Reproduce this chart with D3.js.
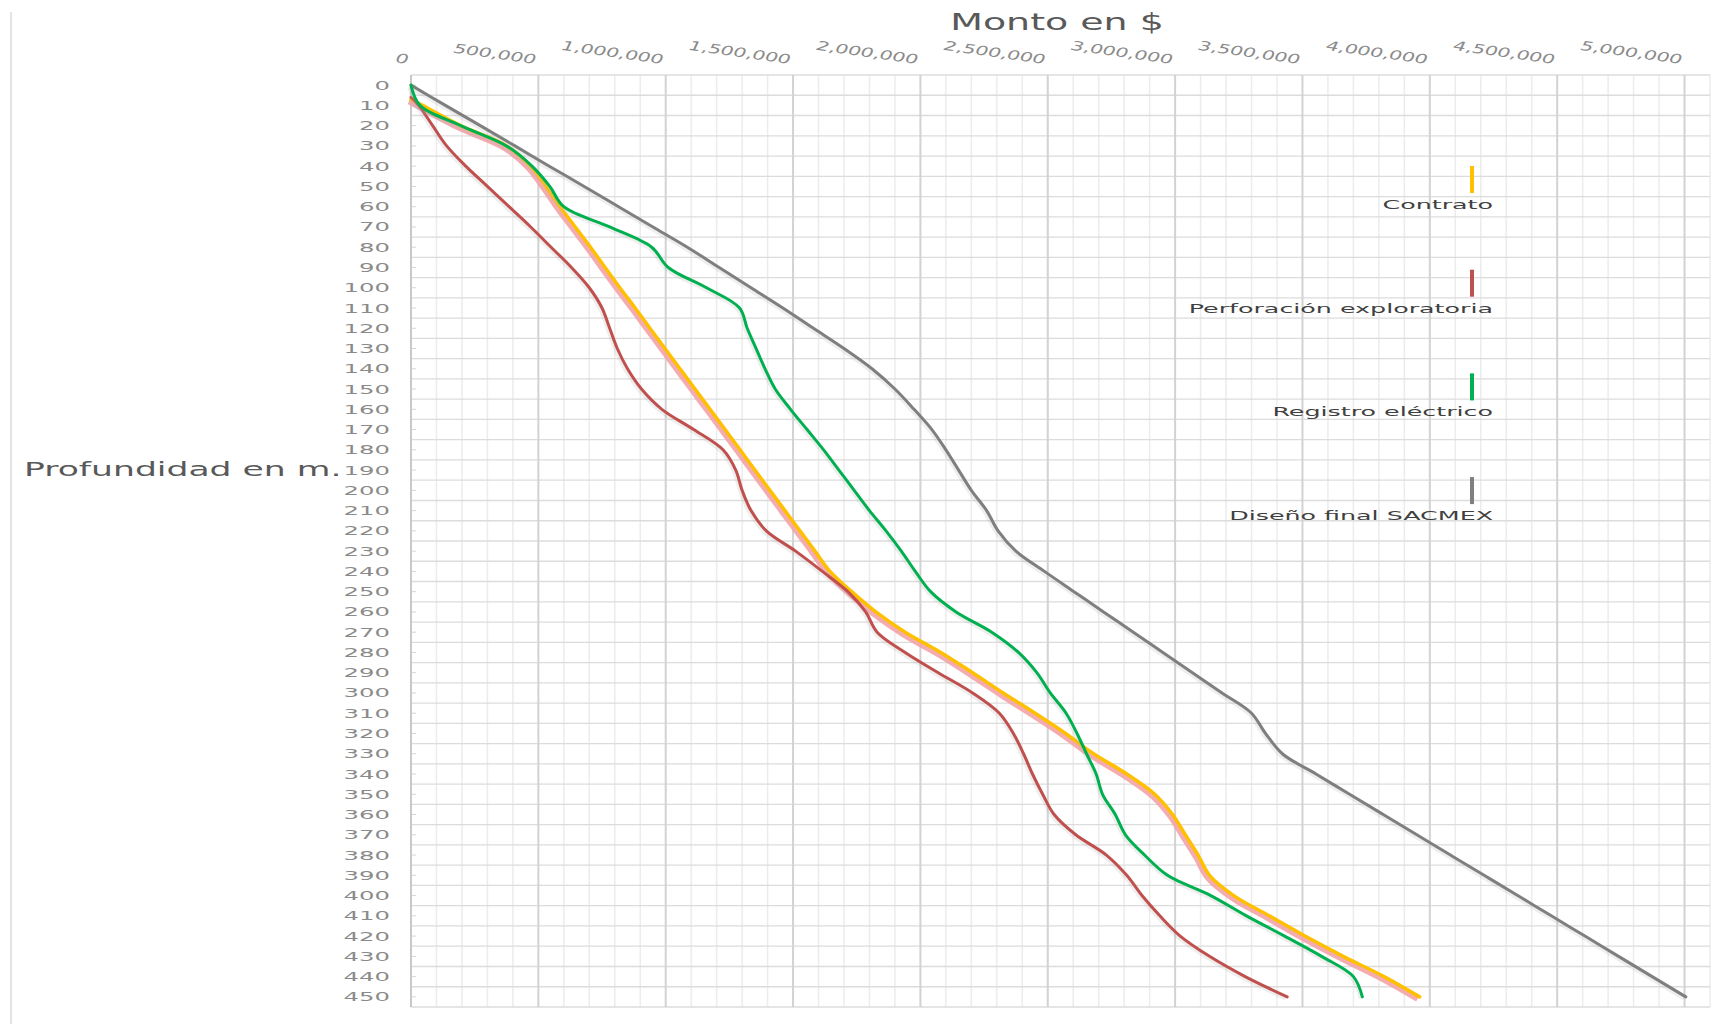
<!DOCTYPE html>
<html>
<head>
<meta charset="utf-8">
<script src="https://cdn.jsdelivr.net/npm/d3@7"></script>
<style>
  body { margin: 0; background: #fff; }
  svg { display: block; font-family: "DejaVu Sans", sans-serif; }
</style>
</head>
<body>
<div id="chart"></div>
<script>
// depth categories (m) = row labels
var depths = [0, 10, 20, 30, 40, 50, 60, 70, 80, 90, 100, 110, 120, 130, 140, 150, 160, 170, 180, 190,
  200, 210, 220, 230, 240, 250, 260, 270, 280, 290, 300, 310, 320, 330, 340, 350, 360, 370, 380, 390,
  400, 410, 420, 430, 440, 450];

// amount ticks on top ($)
var montoTicks = [0, 500000, 1000000, 1500000, 2000000, 2500000, 3000000, 3500000, 4000000, 4500000, 5000000];

// series names (legend order)
var seriesNames = ["Contrato", "Perforación exploratoria", "Registro eléctrico", "Diseño final SACMEX"];

// first depth each series is drawn from (some start a bit below 0)
var startDepth = [7, 6, 0, 0];

// cumulative amount ($) per depth
var contrato = [0, 45000, 195000, 375000, 470000, 530000, 585000, 645000, 705000, 762000,
  820000, 880000, 938000, 997000, 1056000, 1115000, 1174000, 1233000, 1292000, 1350000,
  1409000, 1468000, 1527000, 1586000, 1645000, 1730000, 1825000, 1940000, 2080000, 2205000,
  2325000, 2450000, 2570000, 2680000, 2810000, 2920000, 2990000, 3040000, 3090000, 3135000,
  3230000, 3370000, 3510000, 3660000, 3820000, 3960000];

var perforacion = [0, 30000, 85000, 140000, 215000, 300000, 385000, 470000, 550000, 630000,
  700000, 750000, 780000, 810000, 850000, 905000, 985000, 1110000, 1225000, 1275000,
  1300000, 1335000, 1395000, 1510000, 1615000, 1715000, 1785000, 1830000, 1940000, 2070000,
  2205000, 2310000, 2365000, 2405000, 2440000, 2480000, 2525000, 2610000, 2730000, 2810000,
  2870000, 2940000, 3020000, 3135000, 3275000, 3440000];

var registro = [0, 35000, 195000, 375000, 475000, 545000, 600000, 780000, 945000, 1010000,
  1160000, 1290000, 1320000, 1355000, 1390000, 1430000, 1490000, 1555000, 1620000, 1680000,
  1740000, 1800000, 1865000, 1925000, 1980000, 2040000, 2140000, 2280000, 2385000, 2457000,
  2510000, 2572000, 2615000, 2652000, 2690000, 2715000, 2765000, 2805000, 2880000, 2970000,
  3140000, 3280000, 3430000, 3575000, 3700000, 3735000];

var disenoFinal = [0, 135000, 272000, 408000, 543000, 680000, 815000, 950000, 1085000, 1210000,
  1335000, 1460000, 1580000, 1700000, 1810000, 1900000, 1975000, 2045000, 2100000, 2150000,
  2200000, 2260000, 2305000, 2375000, 2487000, 2603000, 2719000, 2836000, 2952000, 3068000,
  3184000, 3300000, 3355000, 3421000, 3553000, 3685000, 3817000, 3949000, 4081000, 4213000,
  4345000, 4477000, 4609000, 4741000, 4873000, 5005000];

var seriesValues = [contrato, perforacion, registro, disenoFinal];
var seriesColors = ["#FFC000", "#C0504D", "#00B050", "#7F7F7F"];

var W = 1712, H = 1024;
var plot = {left: 411, top: 75, right: 1710, bottom: 1007};

var svg = d3.select("#chart").append("svg")
    .attr("width", W)
    .attr("height", H);

// x: amount, y: depth (rows centred in 10 m bands)
var x = d3.scaleLinear().domain([0, 5100000]).range([plot.left, plot.right]);
var y = d3.scaleLinear().domain([-5, 455]).range([plot.top, plot.bottom]);

// stretched text helper (the original picture is widened horizontally)
function stext(g, px, py, str, size, sx, anchor, rot, color) {
  return g.append("text")
    .attr("transform", "translate(" + px + "," + py + ")" + (rot ? " rotate(" + rot + ")" : "") + " scale(" + sx + ",1)")
    .attr("text-anchor", anchor)
    .style("font-size", size + "px")
    .attr("fill", color)
    .text(str);
}

// faint outer frame line on the left
svg.append("line")
  .attr("x1", 11).attr("x2", 11).attr("y1", 12).attr("y2", H)
  .attr("stroke", "#e4e4e4").attr("stroke-width", 2);

// grid
var grid = svg.append("g");
var minor = d3.range(0, 5100001, 100000);
grid.selectAll(".vminor").data(minor.filter(function(d) { return d % 500000 != 0; }))
  .enter().append("line")
    .attr("x1", function(d) { return x(d); }).attr("x2", function(d) { return x(d); })
    .attr("y1", plot.top).attr("y2", plot.bottom)
    .attr("stroke", "#ececec").attr("stroke-width", 1.5);

grid.selectAll(".hline").data(d3.range(-5, 456, 10))
  .enter().append("line")
    .attr("x1", plot.left).attr("x2", plot.right)
    .attr("y1", function(d) { return y(d); }).attr("y2", function(d) { return y(d); })
    .attr("stroke", "#dcdcdc").attr("stroke-width", 1.3);

grid.selectAll(".vmajor").data(montoTicks.slice(1))
  .enter().append("line")
    .attr("x1", function(d) { return x(d); }).attr("x2", function(d) { return x(d); })
    .attr("y1", plot.top).attr("y2", plot.bottom)
    .attr("stroke", "#d2d2d2").attr("stroke-width", 2);

// left axis line + small ticks
grid.append("line")
  .attr("x1", plot.left).attr("x2", plot.left).attr("y1", plot.top).attr("y2", plot.bottom)
  .attr("stroke", "#c8c8c8").attr("stroke-width", 2);
grid.selectAll(".tk").data(depths)
  .enter().append("line")
    .attr("x1", plot.left).attr("x2", plot.left + 5)
    .attr("y1", function(d) { return y(d); }).attr("y2", function(d) { return y(d); })
    .attr("stroke", "#d4d4d4").attr("stroke-width", 1);

// axis labels
var labels = svg.append("g");
depths.forEach(function(d) {
  stext(labels, 390, y(d) + 4.5, d, 12.5, 1.95, "end", 0, "#8a8a8a");
});
var fmt = d3.format(",");
montoTicks.forEach(function(v) {
  stext(labels, x(v) - 3, 64, fmt(v), 13, 1.55, "end", 8, "#8a8a8a").style("font-style", "italic");
});

stext(labels, 1057, 30, "Monto en $", 23, 1.65, "middle", 0, "#595959");
stext(labels, 24, 476, "Profundidad en m.", 20, 1.73, "start", 0, "#595959");

// lines
var lines = svg.append("g");
function pts(i) {
  return depths.map(function(d, k) {
    return [k == 0 ? startDepth[i] : d, seriesValues[i][k]];
  });
}
var line = d3.line()
  .x(function(p) { return x(p[1]); })
  .y(function(p) { return y(p[0]); })
  .curve(d3.curveCatmullRom.alpha(0.5));

var drawOrder = [3, 0, 1, 2];
drawOrder.forEach(function(i) {
  // soft shadow (pink glow under Contrato)
  lines.append("path")
    .attr("d", line(pts(i)))
    .attr("transform", "translate(-2,2)")
    .attr("fill", "none")
    .attr("stroke", i == 0 ? "#F4A3A8" : "#b0b0b0")
    .attr("stroke-opacity", i == 0 ? 0.9 : 0.22)
    .attr("stroke-width", i == 0 ? 6 : 3);
  lines.append("path")
    .attr("d", line(pts(i)))
    .attr("fill", "none")
    .attr("stroke", seriesColors[i])
    .attr("stroke-width", i == 0 ? 3.5 : 3)
    .attr("stroke-linejoin", "round")
    .attr("stroke-linecap", "round");
});

// legend
var legend = svg.append("g");
seriesNames.forEach(function(name, i) {
  var top = 166 + i * 103.7;
  legend.append("line")
    .attr("x1", 1472).attr("x2", 1472)
    .attr("y1", top).attr("y2", top + 27)
    .attr("stroke", seriesColors[i]).attr("stroke-width", 4);
  stext(legend, 1493, top + 43, name, 13, 1.95, "end", 0, "#404040");
});
</script>
</body>
</html>
